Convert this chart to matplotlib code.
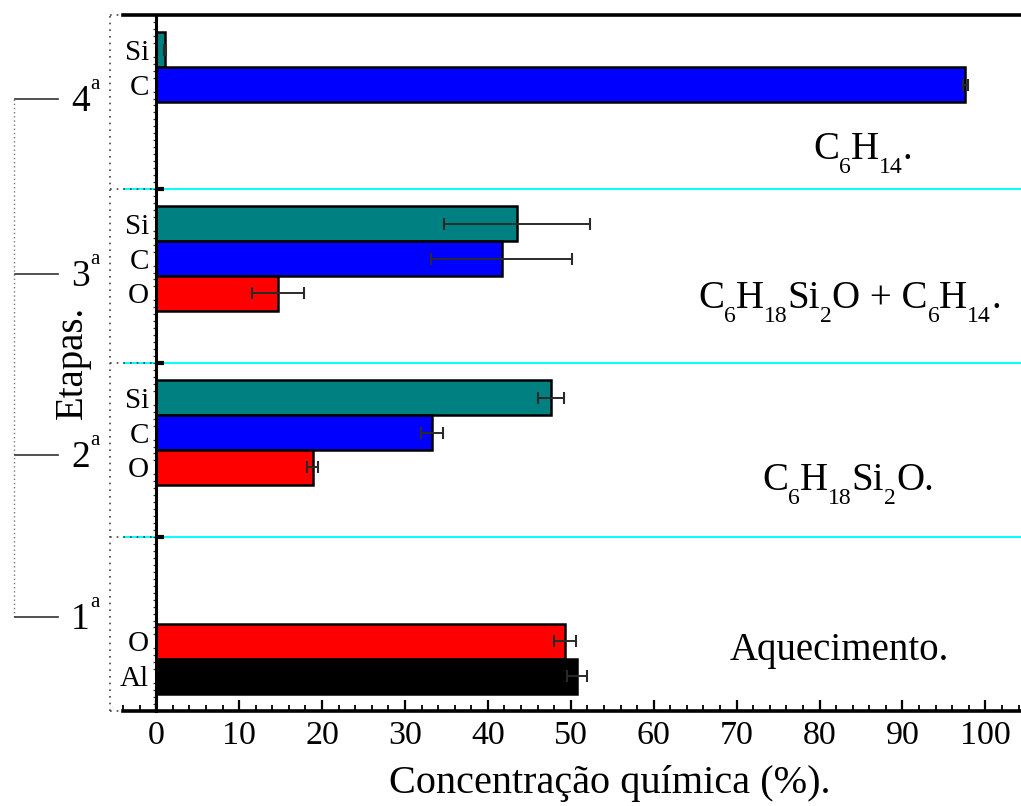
#!/usr/bin/env python3
"""Concentração química por etapa (barras horizontais com erro)."""

import re

import matplotlib

matplotlib.use("Agg")

import matplotlib.pyplot as plt
from matplotlib.ticker import MultipleLocator, FixedLocator
from matplotlib.transforms import IdentityTransform

W, H = 1021, 806

# etapas de baixo para cima, elementos de cima para baixo dentro de cada etapa
STAGES = ["1", "2", "3", "4"]
STAGE_ELEMENTS = [["O", "Al"], ["Si", "C", "O"], ["Si", "C", "O"], ["Si", "C"]]
STAGE_VALUES = [[49.3, 50.7], [47.6, 33.3, 18.9], [43.5, 41.7, 14.7], [1.1, 97.6]]
STAGE_ERRORS = [[1.3, 1.2], [1.6, 1.35, 0.65], [8.8, 8.5, 3.1], [0.1, 0.25]]
STAGE_NOTES = [
    "Aquecimento.",
    "C$_6$H$_{18}$Si$_2$O.",
    "C$_6$H$_{18}$Si$_2$O + C$_6$H$_{14}$.",
    "C$_6$H$_{14}$.",
]
X_TICKS = [0, 10, 20, 30, 40, 50, 60, 70, 80, 90, 100]

COLORS = {"Si": "#008080", "C": "#0000ff", "O": "#ff0000", "Al": "#000000"}
GROUP = 5.0  # altura de cada etapa em unidades de barra

plt.rcParams.update(
    {
        "font.family": ["Liberation Serif", "DejaVu Serif"],
        "text.color": "black",
    }
)


def px(x, y):
    return x / W, 1 - y / H


def draw_formula(fig, ax, x, y, note, size=28, sub_size=17, drop=14):
    """Escreve a fórmula pedaço a pedaço, com índices mais baixos que o mathtext."""
    renderer = fig.canvas.get_renderer()
    xd, yd = ax.transData.transform((x, y))
    parts = re.split(r"\$_\{?([^}$]+)\}?\$", note)
    for j, part in enumerate(parts):
        if not part:
            continue
        is_sub = j % 2 == 1
        t = fig.text(
            xd,
            yd - (drop if is_sub else 0),
            part,
            fontsize=sub_size if is_sub else size,
            ha="left",
            va="baseline",
            transform=IdentityTransform(),
        )
        xd += t.get_window_extent(renderer).width


fig = plt.figure(figsize=(W / 100, H / 100), dpi=100)
ax = fig.add_axes([123 / W, 95 / H, 898 / W, 696 / H])

centers, values, errors, colors, labels = [], [], [], [], []
for i, elems in enumerate(STAGE_ELEMENTS):
    n = len(elems)
    for k, el in enumerate(elems):
        if i == 0:
            centers.append(n - k)
        else:
            centers.append(GROUP * i + GROUP - 1 - k)
        values.append(STAGE_VALUES[i][k])
        errors.append(STAGE_ERRORS[i][k])
        colors.append(COLORS[el])
        labels.append(el)

ax.barh(
    centers,
    values,
    height=1.0,
    color=colors,
    edgecolor="black",
    linewidth=1.8,
    xerr=errors,
    error_kw=dict(ecolor="#2a2a2a", elinewidth=1.4, capsize=4.5, capthick=1.5),
    zorder=3,
)

n_stages = len(STAGES)
ax.set_xlim(-4, 104.3)
ax.set_ylim(0, GROUP * n_stages)

for i in range(1, n_stages):
    yb = GROUP * i
    ax.axhline(yb, color="#00ffff", lw=1.4, zorder=1)
    ax.plot([0, 0.9], [yb, yb], color="black", lw=3, solid_capstyle="butt", zorder=4)
    ax.plot([-5.55, 0], [yb, yb], color="#444444", lw=1.2, ls=(0, (1, 3)),
            clip_on=False, zorder=2)
for yb in (0, GROUP * n_stages):
    ax.plot([-5.55, -4], [yb, yb], color="#444444", lw=1.2, ls=(0, (1, 3)),
            clip_on=False, zorder=2)
ax.plot([-5.55, -5.55], [0, GROUP * n_stages], color="#444444", lw=1.2,
        ls=(0, (1, 3)), clip_on=False, zorder=2)

# eixos
ax.spines["right"].set_visible(False)
ax.spines["left"].set_position(("data", 0))
ax.spines["left"].set_linewidth(2.2)
ax.spines["top"].set_linewidth(2.6)
ax.spines["bottom"].set_linewidth(2.6)
for s in ("left", "top", "bottom"):
    ax.spines[s].set_zorder(5)

ax.xaxis.set_major_locator(FixedLocator(X_TICKS))
ax.xaxis.set_minor_locator(MultipleLocator(2))
ax.set_xticklabels([str(t) for t in X_TICKS])
ax.tick_params(axis="x", which="major", direction="in", length=8, width=1.6,
               labelsize=24.5, pad=7, top=False)
ax.tick_params(axis="x", which="minor", direction="in", length=4.3, width=1.3, top=False)

ax.set_yticks(centers)
ax.set_yticklabels(labels)
ax.yaxis.set_minor_locator(MultipleLocator(0.2))
ax.tick_params(axis="y", which="major", length=0, labelsize=21, pad=5)
ax.tick_params(axis="y", which="minor", direction="out", length=2.2, width=0.9,
               color="#333333")

ax.set_xlabel("Concentração química (%).", fontsize=29)
ax.xaxis.set_label_coords(0.542, -0.078)

# textos de cada etapa
note_pos = [(69.2, 1.47), (73.1, 6.35), (65.4, 11.58), (79.25, 15.86)]
for (nx, ny), note in zip(note_pos, STAGE_NOTES):
    draw_formula(fig, ax, nx, ny, note)

# colchete das etapas à esquerda
line_py = [617, 455, 274, 99]
fig.add_artist(plt.Line2D([14 / W, 14 / W], [1 - line_py[-1] / H, 1 - line_py[0] / H],
                          color="#777777", lw=1.0, ls=(0, (1, 2))))
for st, ly in zip(STAGES, line_py):
    x0, y0 = px(15, ly)
    x1, _ = px(58, ly)
    fig.add_artist(plt.Line2D([x0, x1], [y0, y0], color="#333333", lw=1.2))
    fig.text(*px(71, ly + 12), st, fontsize=27, ha="left", va="baseline")
    fig.text(*px(90, ly - 10), "a", fontsize=15, ha="left", va="baseline")

fig.text(*px(72, 362), "Etapas.", fontsize=28, rotation=90, ha="center", va="center")

fig.savefig("out.png", dpi=100)
